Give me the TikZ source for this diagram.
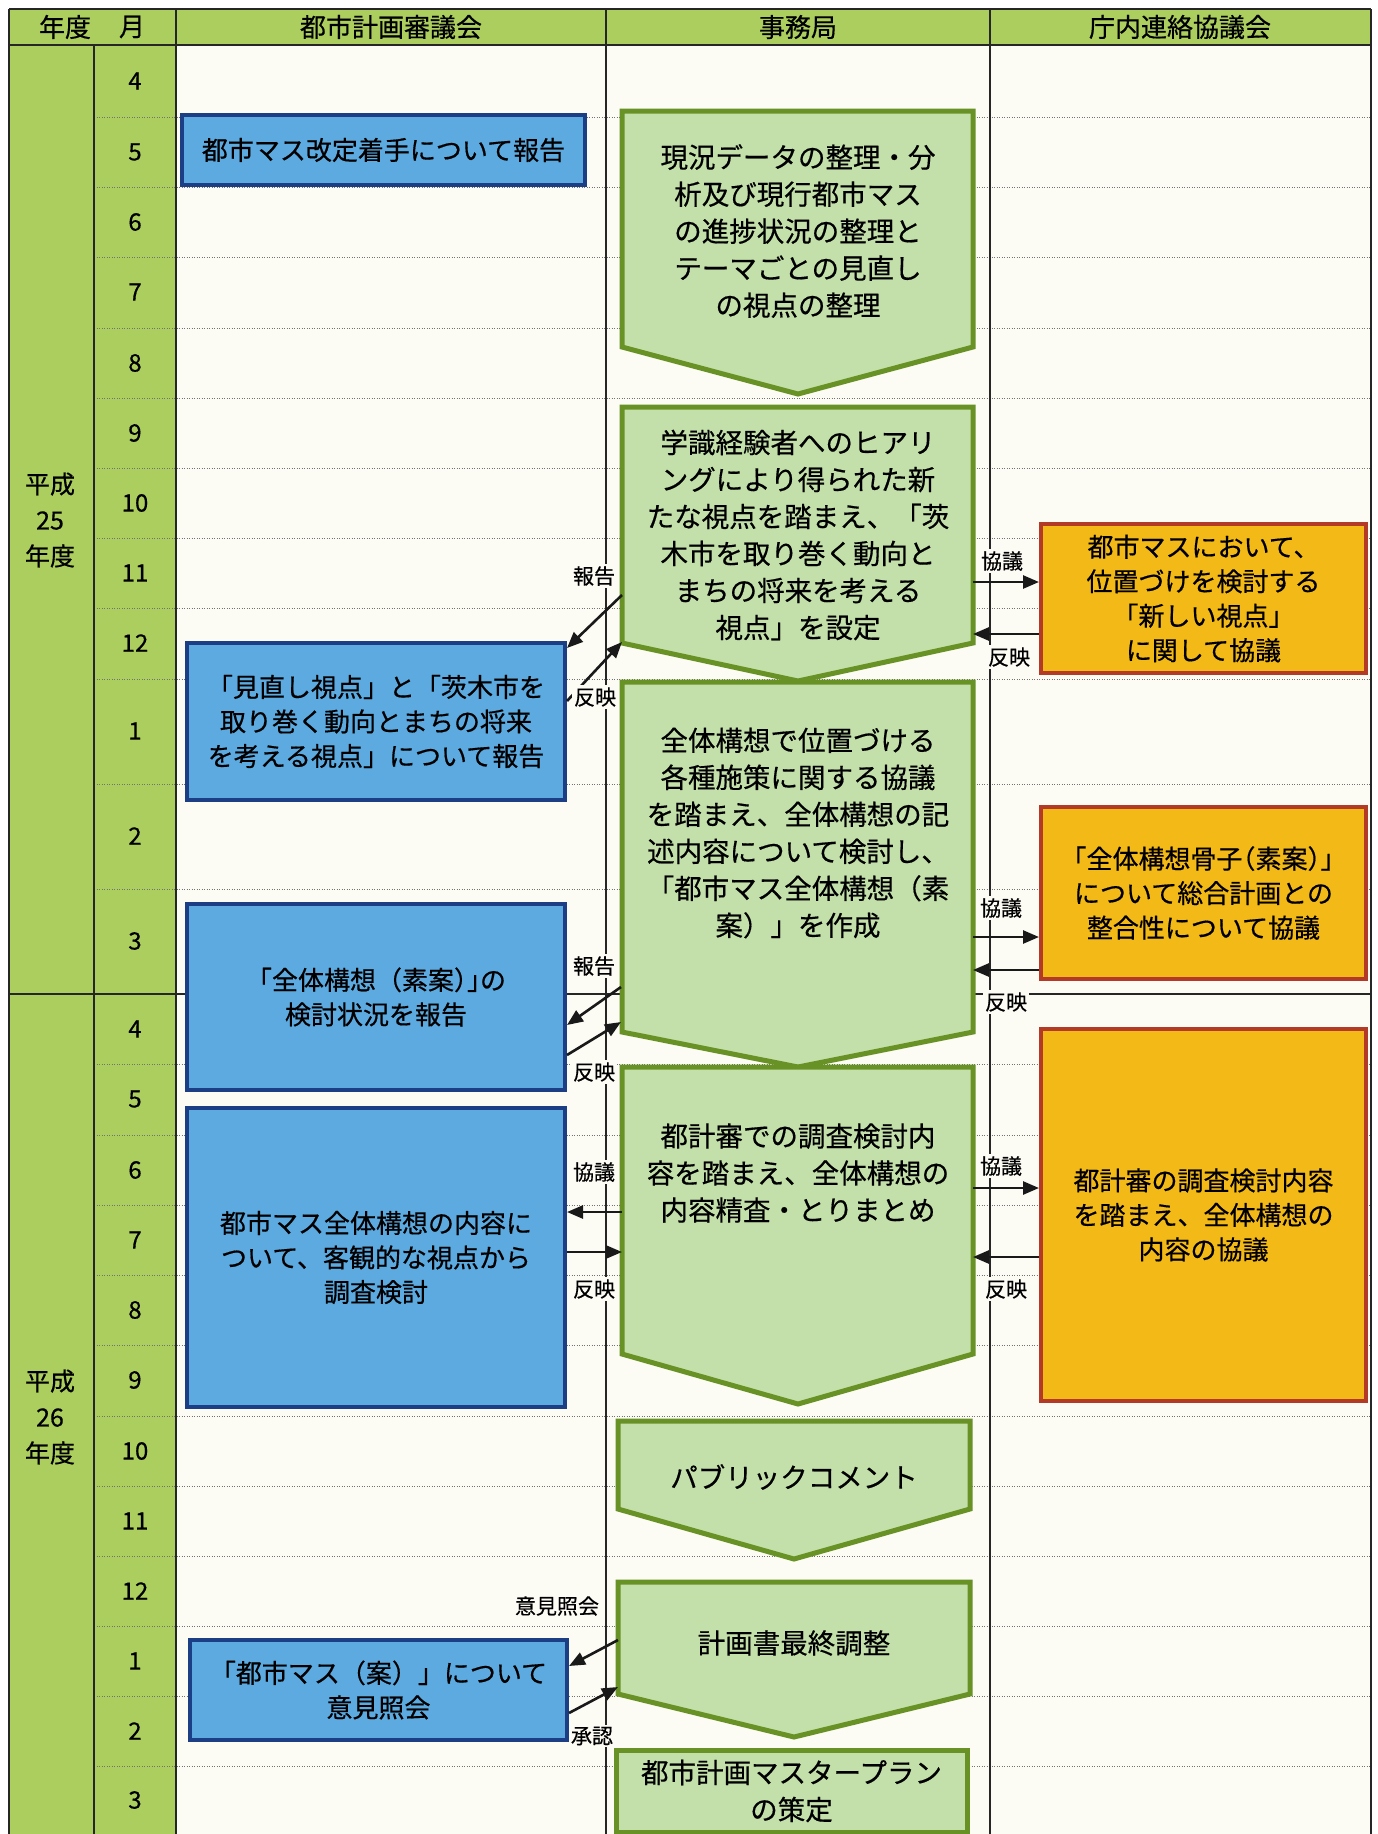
\documentclass[tikz,border=0pt]{standalone}
\usepackage{fontspec}
\setmainfont{Noto Sans CJK JP}[FakeBold=0.5]
\newfontfamily\cjkhalt{Noto Sans CJK JP}[RawFeature=+halt,FakeBold=0.5]
\usetikzlibrary{arrows.meta,calc}

\definecolor{hdr}{RGB}{172,206,94}
\definecolor{bg}{RGB}{252,251,244}
\definecolor{gfill}{RGB}{196,224,170}
\definecolor{gline}{RGB}{104,146,38}
\definecolor{bfill}{RGB}{92,170,224}
\definecolor{bline}{RGB}{28,62,132}
\definecolor{ofill}{RGB}{243,185,22}
\definecolor{oline}{RGB}{178,58,38}

\begin{document}
\begin{tikzpicture}[x=1pt,y=-1pt,
  grid/.style={line width=1.4pt, black!85},
  rowline/.style={line width=1pt, black!55, dash pattern=on 1.2pt off 1.3pt},
  bluebox/.style={draw=bline, fill=bfill, line width=4pt, inner sep=0pt, align=center,
    font=\fontsize{26}{34.5}\selectfont},
  orangebox/.style={draw=oline, fill=ofill, line width=4pt, inner sep=0pt, align=center,
    font=\fontsize{26}{34.5}\selectfont},
  chev/.style={draw=gline, fill=gfill, line width=5pt, line join=miter},
  gtext/.style={align=center, inner sep=0pt, font=\fontsize{27.5}{37}\selectfont},
  arr/.style={line width=2.6pt, black!90, -{Triangle[length=16pt,width=13pt]}},
  lbl/.style={fill=bg, inner sep=2pt, font=\fontsize{21}{24}\selectfont},
  hd/.style={font=\fontsize{26}{28}\selectfont},
  yr/.style={align=center, font=\fontsize{25}{36}\selectfont},
  mon/.style={font=\fontsize{24}{26}\selectfont}
]
\useasboundingbox (0,0) rectangle (1378,1834);
\fill[white] (0,0) rectangle (1378,1834);
\fill[bg] (176,45) rectangle (1371,1834);
\fill[hdr] (9,9) rectangle (1371,45);
\fill[hdr] (9,45) rectangle (176,1834);

% dotted month lines
\foreach \yy in {117,187,257,328,398,468,538,608,679,784,889,1064,1135,1205,1275,1345,1416,1486,1556,1626,1696,1766}
  \draw[rowline] (94,\yy) -- (1371,\yy);

% grid
\draw[grid] (9,9) -- (1371,9);
\draw[grid] (9,45) -- (1371,45);
\draw[grid] (9,994) -- (1371,994);
\draw[grid] (9,9) -- (9,1834);
\draw[grid] (94,45) -- (94,1834);
\draw[grid] (176,9) -- (176,1834);
\draw[grid] (606,9) -- (606,1834);
\draw[grid] (990,9) -- (990,1834);
\draw[grid] (1371,9) -- (1371,1834);

% headers
\node[hd] (hnen) at (65,27) {年度};
\node[hd] (htsuki) at (132,27) {月};
\node[hd] (hshin) at (391,27) {都市計画審議会};
\node[hd] (hjim) at (798,27) {事務局};
\node[hd] (hcho) at (1180,27) {庁内連絡協議会};

% years
\node[yr] (y25) at (50,520) {平成\\25\\年度};
\node[yr] (y26) at (50,1417) {平成\\26\\年度};

% months
\foreach \yy/\mm/\nm in {81/4/m1,152/5/m2,222/6/m3,292/7/m4,363/8/m5,433/9/m6,503/10/m7,573/11/m8,643/12/m9,731/1/m10,836/2/m11,941/3/m12,1029/4/m13,1099/5/m14,1170/6/m15,1240/7/m16,1310/8/m17,1380/9/m18,1451/10/m19,1521/11/m20,1591/12/m21,1661/1/m22,1731/2/m23,1800/3/m24}
  \node[mon] (\nm) at (135,\yy) {\mm};

% blue boxes
\node[bluebox, minimum width=403pt, minimum height=70pt] (b1) at (383.5,150) {都市マス改定着手について報告};
\node[bluebox, minimum width=378pt, minimum height=157pt] (b2) at (376,721.5) {「見直し視点」と「茨木市を\\取り巻く動向とまちの将来\\を考える視点」について報告};
\node[bluebox, minimum width=378pt, minimum height=186pt] (b3) at (376,997) {「全体構想（素案{\cjkhalt ）」}の\\検討状況を報告};
\node[bluebox, minimum width=378pt, minimum height=299pt] (b4) at (376,1257.5) {都市マス全体構想の内容に\\ついて、客観的な視点から\\調査検討};
\node[bluebox, minimum width=377pt, minimum height=100pt] (b5) at (378.5,1690) {「都市マス（案）」について\\意見照会};

% orange boxes
\node[orangebox, minimum width=325pt, minimum height=149pt] (o1) at (1203.5,598.5) {都市マスにおいて、\\位置づけを検討する\\「新しい視点」\\に関して協議};
\node[orangebox, minimum width=325pt, minimum height=172pt] (o2) at (1203.5,893) {{\cjkhalt 「}全体構想骨子{\cjkhalt （}素案{\cjkhalt ）」}\\について総合計画との\\整合性について協議};
\node[orangebox, minimum width=325pt, minimum height=372pt] (o3) at (1203.5,1215) {都計審の調査検討内容\\を踏まえ、全体構想の\\内容の協議};

% green chevrons
\draw[chev] (622,111) -- (973,111) -- (973,347) -- (798,394) -- (622,347) -- cycle;
\node[gtext] (g1) at (798,231) {現況データの整理・分\\析及び現行都市マス\\の進捗状況の整理と\\テーマごとの見直し\\の視点の整理};
\draw[chev] (622,407) -- (973,407) -- (973,643) -- (798,681) -- (622,643) -- cycle;
\node[gtext] (g2) at (798,535) {学識経験者へのヒアリ\\ングにより得られた新\\たな視点を踏まえ、「茨\\木市を取り巻く動向と\\まちの将来を考える\\視点」を設定};
\draw[chev] (622,682) -- (973,682) -- (973,1032) -- (798,1067) -- (622,1032) -- cycle;
\node[gtext] (g3) at (798,833) {全体構想で位置づける\\各種施策に関する協議\\を踏まえ、全体構想の記\\述内容について検討し、\\「都市マス全体構想（素\\案）」を作成};
\draw[chev] (622,1067) -- (973,1067) -- (973,1354) -- (798,1404) -- (622,1354) -- cycle;
\node[gtext] (g4) at (798,1173) {都計審での調査検討内\\容を踏まえ、全体構想の\\内容精査・とりまとめ};
\draw[chev] (618,1421) -- (970,1421) -- (970,1509) -- (794,1559) -- (618,1509) -- cycle;
\node[gtext] (g5) at (794,1477) {パブリックコメント};
\draw[chev] (618,1582) -- (970,1582) -- (970,1694) -- (794,1737) -- (618,1694) -- cycle;
\node[gtext] (g6) at (794,1643) {計画書最終調整};
\node[draw=gline, fill=gfill, line width=5pt, minimum width=351pt, minimum height=82pt, inner sep=0pt, align=center, font=\fontsize{27.5}{37}\selectfont] (g7) at (791.5,1791) {都市計画マスタープラン\\の策定};

% connector end points on the chevron edges
\coordinate (g2a) at (622,595);
\coordinate (g2b) at (622,642);
\coordinate (g3a) at (621,987);
\coordinate (g3b) at (621,1022);
\coordinate (g4a) at (622,1212);
\coordinate (g4b) at (622,1252);
\coordinate (g6a) at (618,1640);
\coordinate (g6b) at (618,1687);
\coordinate (g2c) at (973,582);
\coordinate (g2d) at (973,634);
\coordinate (g3c) at (973,937);
\coordinate (g3d) at (973,970);
\coordinate (g4c) at (973,1188);
\coordinate (g4d) at (973,1257);

% left arrows
\draw[arr] (g2a) -- ($(b2.north east)+(0,7)$);
\draw[arr] ($(b2.north east)+(0,60)$) -- (g2b);
\draw[arr] (g3a) -- ($(b3.north east)+(0,123)$);
\draw[arr] ($(b3.north east)+(0,153)$) -- (g3b);
\draw[arr] (g4a) -- (b4.east |- g4a);
\draw[arr] (b4.east |- g4b) -- (g4b);
\draw[arr] (g6a) -- ($(b5.north east)+(0,28)$);
\draw[arr] ($(b5.north east)+(0,75)$) -- (g6b);

% right arrows
\draw[arr] (g2c) -- (o1.west |- g2c);
\draw[arr] (o1.west |- g2d) -- (g2d);
\draw[arr] (g3c) -- (o2.west |- g3c);
\draw[arr] (o2.west |- g3d) -- (g3d);
\draw[arr] (g4c) -- (o3.west |- g4c);
\draw[arr] (o3.west |- g4d) -- (g4d);

% labels
\node[lbl] (l1) at (594,576) {報告};
\node[lbl] (l2) at (595,697) {反映};
\node[lbl] (l3) at (594,966) {報告};
\node[lbl] (l4) at (594,1072) {反映};
\node[lbl] (l5) at (594,1172) {協議};
\node[lbl] (l6) at (594,1289) {反映};
\node[lbl] (l7) at (557,1606) {意見照会};
\node[lbl] (l8) at (592,1736) {承認};
\node[lbl] (r1) at (1002,561) {協議};
\node[lbl] (r2) at (1009,657) {反映};
\node[lbl] (r3) at (1001,908) {協議};
\node[lbl] (r4) at (1006,1002) {反映};
\node[lbl] (r5) at (1001,1166) {協議};
\node[lbl] (r6) at (1006,1289) {反映};
\end{tikzpicture}
\end{document}
